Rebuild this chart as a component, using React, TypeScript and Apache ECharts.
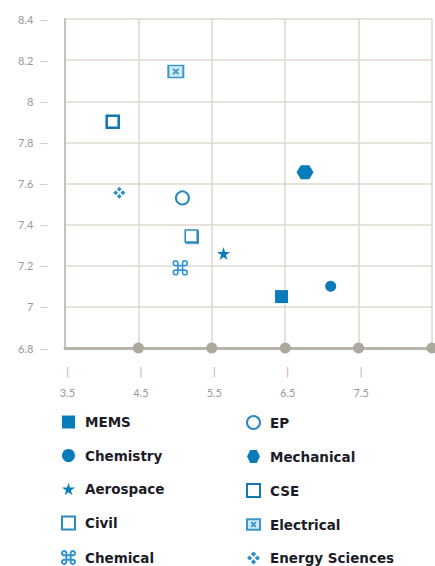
import React, { useEffect, useRef } from "react";
import * as echarts from "echarts";

const categories = ["MEMS", "Chemistry", "Aerospace", "Civil", "Chemical", "EP", "Mechanical", "CSE", "Electrical", "Energy Sciences"];
const xValues = [6.45, 7.12, 5.66, 5.22, 5.07, 5.1, 6.77, 4.15, 5.01, 4.24];
const yValues = [7.05, 7.1, 7.26, 7.345, 7.19, 7.53, 7.655, 7.9, 8.145, 7.555];
const legendLeft = ["MEMS", "Chemistry", "Aerospace", "Civil", "Chemical"];
const legendRight = ["EP", "Mechanical", "CSE", "Electrical", "Energy Sciences"];
const xTicks = [3.5, 4.5, 5.5, 6.5, 7.5, 8.5];
const axisDotX = [4.5, 5.5, 6.5, 7.5, 8.5];

const BLUE = "#0b7cba";
const STAR = "path://M50,0 L61,35 L98,35 L68,57 L79,91 L50,70 L21,91 L32,57 L2,35 L39,35 Z";
const HEX = "path://M25,0 L75,0 L100,50 L75,100 L25,100 L0,50 Z";
const CMD =
  "path://M35,35 L65,35 L65,65 L35,65 Z M35,35 L35,20 A15,15 0 1 0 20,35 L35,35 M65,35 L65,20 A15,15 0 1 1 80,35 L65,35 M65,65 L80,65 A15,15 0 1 1 65,80 L65,65 M35,65 L20,65 A15,15 0 1 0 35,80 L35,65";
const XBOX = "path://M0,0 L100,0 L100,80 L0,80 Z M32,22 L68,58 M68,22 L32,58";
const CROSS =
  "path://M50,0 L70,20 L50,40 L30,20 Z M100,50 L80,70 L60,50 L80,30 Z M50,100 L30,80 L50,60 L70,80 Z M0,50 L20,30 L40,50 L20,70 Z";

const styles: Record<string, any> = {
  MEMS: { symbol: "rect", size: 13, itemStyle: { color: BLUE } },
  Chemistry: { symbol: "circle", size: 11, itemStyle: { color: BLUE } },
  Aerospace: { symbol: STAR, size: 13, itemStyle: { color: BLUE } },
  Civil: {
    symbol: "rect",
    size: 12,
    itemStyle: { color: "#ffffff", borderColor: "#2a8cc2", borderWidth: 1.6, shadowColor: "rgba(20,100,150,0.8)", shadowOffsetX: 1, shadowOffsetY: 1.2, shadowBlur: 0 },
  },
  Chemical: { symbol: CMD, size: 14, itemStyle: { color: "rgba(0,0,0,0)", borderColor: "#2f97cf", borderWidth: 1.6 } },
  EP: { symbol: "circle", size: 13, itemStyle: { color: "#ffffff", borderColor: "#2a88bd", borderWidth: 2 } },
  Mechanical: { symbol: HEX, size: [17, 14], itemStyle: { color: BLUE } },
  CSE: { symbol: "rect", size: 12, itemStyle: { color: "#ffffff", borderColor: "#1479b2", borderWidth: 2.6 } },
  Electrical: { symbol: XBOX, size: [15, 12], itemStyle: { color: "#d3e9f5", borderColor: "#3a98cc", borderWidth: 1.8 } },
  "Energy Sciences": { symbol: CROSS, size: 12, itemStyle: { color: "#2a8dc6" } },
};

export default function App() {
  const ref = useRef<HTMLDivElement>(null);
  useEffect(() => {
    if (!ref.current) return;
    const chart = echarts.init(ref.current, null, { renderer: "svg" });
    const series: any[] = categories.map((name, i) => ({
      name,
      type: "scatter",
      data: [[xValues[i], yValues[i]]],
      symbol: styles[name].symbol,
      symbolSize: styles[name].size,
      itemStyle: { opacity: 1, ...styles[name].itemStyle },
      z: 5,
    }));
    series.push({
      name: "axisDots",
      type: "scatter",
      data: axisDotX.map((x) => [x, 6.8]),
      symbol: "circle",
      symbolSize: 11,
      itemStyle: { color: "#aba99c", opacity: 1 },
      silent: true,
      clip: false,
      z: 4,
    });
    const legendBase = {
      orient: "vertical",
      itemWidth: 13,
      itemHeight: 13,
      itemGap: 19.5,
      top: 415,
      height: 200,
      padding: 0,
      selectedMode: false,
      textStyle: {
        fontFamily: "DejaVu Sans",
        fontWeight: "bold",
        fontSize: 13.5,
        lineHeight: 14,
        color: "#1c1c28",
        padding: [0, 0, 0, 5],
      },
    };
    chart.setOption({
      animation: false,
      backgroundColor: "#ffffff",
      grid: { left: 65, right: 0, top: 19, bottom: 218, containLabel: false },
      legend: [
        { ...legendBase, left: 61, data: legendLeft },
        { ...legendBase, left: 246, data: legendRight },
      ],
      xAxis: {
        type: "value",
        min: 3.5,
        max: 8.5,
        interval: 1,
        axisLine: { show: true, lineStyle: { color: "#b8b6aa", width: 3 } },
        axisTick: { show: false },
        splitLine: { show: true, lineStyle: { color: "#dcd9ce", width: 1.5 } },
        axisLabel: {
          margin: 11,
          padding: [0, 0, 0, 5],
          formatter: (v: number) => (xTicks.indexOf(v) >= 0 && v < 8.5 ? `{t||}\n{v|${v}}` : ""),
          rich: {
            t: { fontSize: 11, lineHeight: 24, color: "#b8b8b8", fontFamily: "DejaVu Sans" },
            v: { fontSize: 11, lineHeight: 18, color: "#999999", fontFamily: "Lato" },
          },
        },
      },
      yAxis: {
        type: "value",
        min: 6.8,
        max: 8.4,
        interval: 0.2,
        axisLine: { show: true, lineStyle: { color: "#c6c3b6", width: 2 } },
        axisTick: { show: false },
        splitLine: { show: true, lineStyle: { color: "#dcd9ce", width: 1.5 } },
        axisLabel: {
          margin: 17,
          formatter: (v: number) => {
            const r = Math.round(v * 10) / 10;
            return `{v|${r}}{d|—}`;
          },
          rich: {
            v: { fontSize: 11, color: "#999999", fontFamily: "Lato", padding: [0, 6, 0, 0] },
            d: { fontSize: 11, color: "#c4c4c4", fontFamily: "Lato" },
          },
        },
      },
      series,
    });
    return () => chart.dispose();
  }, []);
  return (
    <div
      ref={ref}
      style={{ position: "absolute", left: 0, top: 0, width: 435, height: 566 }}
    />
  );
}
